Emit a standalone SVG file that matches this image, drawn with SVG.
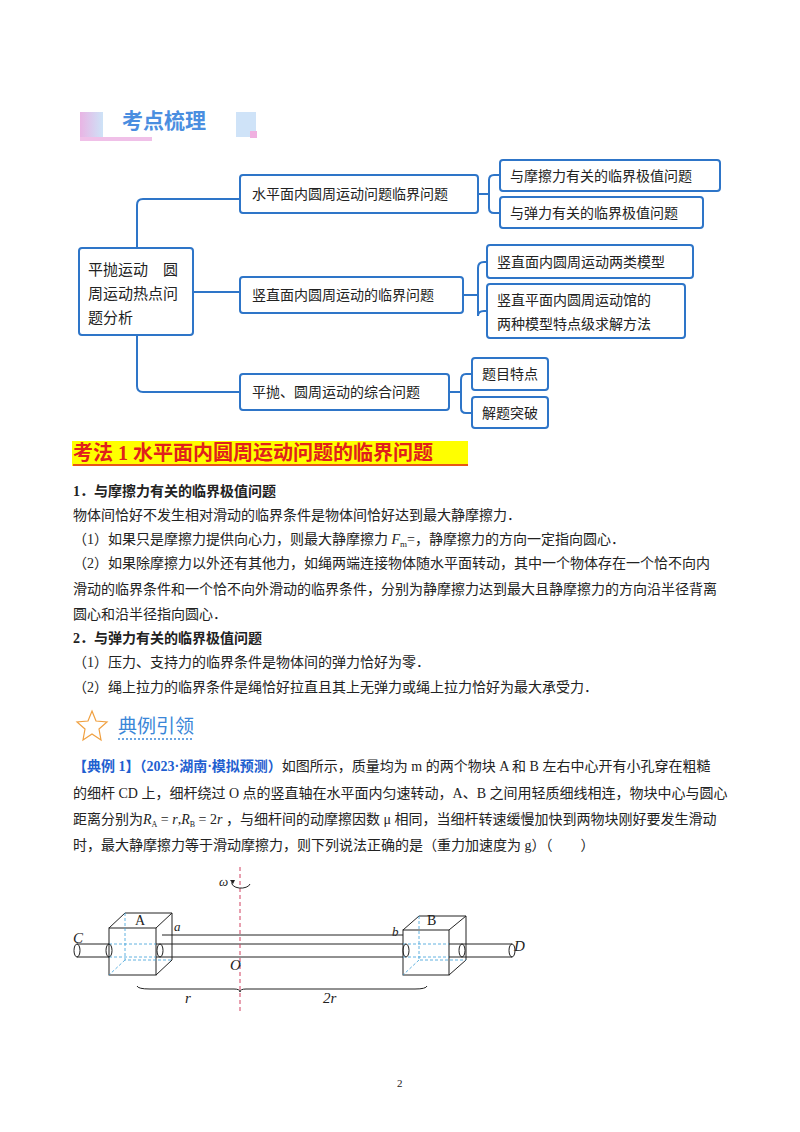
<svg xmlns="http://www.w3.org/2000/svg" width="800" height="1132" viewBox="0 0 800 1132">
<style>
.t{font-family:"Liberation Serif","Noto Sans CJK SC",serif;font-size:14px;fill:#222}
.b{font-weight:bold}
.n rect{fill:#fff;stroke:#2e75c8;stroke-width:2}
.c{fill:none;stroke:#2e75c8;stroke-width:2}
.k{fill:none;stroke:#222;stroke-width:1}
.d{fill:none;stroke:#3aa0d8;stroke-width:0.8;stroke-dasharray:3,2}
</style>
<rect width="800" height="1132" fill="#fff"/>
<defs><linearGradient id="g1" x1="0" x2="1"><stop offset="0" stop-color="#e9b4e4"/><stop offset="1" stop-color="#cde3f7"/></linearGradient></defs>
<g id="header">
<rect x="80" y="112" width="23" height="28" fill="url(#g1)"/>
<rect x="80" y="137" width="72" height="4" fill="#f0c0e8"/>
<rect x="236" y="112" width="20" height="25" fill="#cfe3f8"/>
<rect x="250" y="131" width="7" height="7" fill="#f0b0e0"/>
<text x="122" y="128" class="t b" style="font-size:21px;fill:#4a8ee0;font-family:'Noto Sans CJK SC',sans-serif">考点梳理</text>
</g>
<g id="connectors">
<path class="c" d="M193 292 H240 M137 248 V205 Q137 199 143 199 H240 M137 335 V386 Q137 392 143 392 H240"/>
<path class="c" d="M478 194 H489 M489 180 V208 M489 180 Q489 175 494 175 H500 M489 208 Q489 213 494 213 H500"/>
<path class="c" d="M463 295 H478 M478 268 V316 M478 268 Q478 262 484 262 H487 M478 316 Q478 311 484 311 H487"/>
<path class="c" d="M449 392 H461 M461 380 V408 M461 380 Q461 374 466 374 H472 M461 408 Q461 413 466 413 H472"/>
</g>
<g id="root" class="n"><rect x="79" y="248" width="114" height="87" rx="3"/>
<text class="t" x="88" y="275" style="font-size:15px">平抛运动　圆</text><text class="t" x="88" y="299" style="font-size:15px">周运动热点问</text><text class="t" x="88" y="323" style="font-size:15px">题分析</text></g>
<g id="n1" class="n"><rect x="240" y="175" width="238" height="38" rx="3"/><text class="t" x="252" y="199">水平面内圆周运动问题临界问题</text></g>
<g id="n1a" class="n"><rect x="500" y="160" width="220" height="31" rx="3"/><text class="t" x="510" y="181">与摩擦力有关的临界极值问题</text></g>
<g id="n1b" class="n"><rect x="500" y="197" width="203" height="31" rx="3"/><text class="t" x="510" y="218">与弹力有关的临界极值问题</text></g>
<g id="n2" class="n"><rect x="240" y="277" width="223" height="36" rx="3"/><text class="t" x="252" y="300">竖直面内圆周运动的临界问题</text></g>
<g id="n2a" class="n"><rect x="487" y="245" width="206" height="33" rx="3"/><text class="t" x="497" y="267">竖直面内圆周运动两类模型</text></g>
<g id="n2b" class="n"><rect x="487" y="284" width="198" height="54" rx="3"/><text class="t" x="497" y="305">竖直平面内圆周运动馆的</text><text class="t" x="497" y="329">两种模型特点级求解方法</text></g>
<g id="n3" class="n"><rect x="240" y="374" width="209" height="36" rx="3"/><text class="t" x="252" y="397">平抛、圆周运动的综合问题</text></g>
<g id="n3a" class="n"><rect x="472" y="358" width="76" height="32" rx="3"/><text class="t" x="482" y="379">题目特点</text></g>
<g id="n3b" class="n"><rect x="472" y="397" width="76" height="31" rx="3"/><text class="t" x="482" y="418">解题突破</text></g>
<g id="body">
<rect x="72" y="441" width="396" height="25" fill="#ffff00"/>
<text x="73" y="460" class="t b" style="font-size:20px;fill:#e0201c">考法 1  水平面内圆周运动问题的临界问题</text>
<line x1="73" y1="465" x2="468" y2="465" stroke="#e0201c" stroke-width="1.5"/>
<text class="t b" x="73" y="496">1．与摩擦力有关的临界极值问题</text>
<text class="t" x="73" y="520">物体间恰好不发生相对滑动的临界条件是物体间恰好达到最大静摩擦力．</text>
<text class="t" x="73" y="544">（1）如果只是摩擦力提供向心力，则最大静摩擦力 <tspan font-style="italic">F</tspan><tspan font-size="9" dy="3">m</tspan><tspan dy="-3">=，静摩擦力的方向一定指向圆心．</tspan></text>
<text class="t" x="73" y="568">（2）如果除摩擦力以外还有其他力，如绳两端连接物体随水平面转动，其中一个物体存在一个恰不向内</text>
<text class="t" x="73" y="594">滑动的临界条件和一个恰不向外滑动的临界条件，分别为静摩擦力达到最大且静摩擦力的方向沿半径背离</text>
<text class="t" x="73" y="619">圆心和沿半径指向圆心．</text>
<text class="t b" x="73" y="643">2．与弹力有关的临界极值问题</text>
<text class="t" x="73" y="667">（1）压力、支持力的临界条件是物体间的弹力恰好为零．</text>
<text class="t" x="73" y="692">（2）绳上拉力的临界条件是绳恰好拉直且其上无弹力或绳上拉力恰好为最大承受力．</text>
<polygon points="92,711 96,721 107,722 99,729 101,740 92,734 83,740 85,729 77,722 88,721" fill="none" stroke="#f0a040" stroke-width="1.2"/>
<text x="118" y="733" style="font-family:'Noto Sans CJK SC',sans-serif;font-size:19px;fill:#3a86d8">典例引领</text>
<line x1="118" y1="739" x2="192" y2="739" stroke="#3a86d8" stroke-width="1.5" stroke-dasharray="2,2"/>
<text class="t" x="73" y="771"><tspan class="b" fill="#1f5fd0">【典例 1】（2023·湖南·模拟预测）</tspan>如图所示，质量均为 m 的两个物块 A 和 B 左右中心开有小孔穿在粗糙</text>
<text class="t" x="73" y="798">的细杆 CD 上，细杆绕过 O 点的竖直轴在水平面内匀速转动，A、B 之间用轻质细线相连，物块中心与圆心</text>
<text class="t" x="73" y="824">距离分别为<tspan font-style="italic">R</tspan><tspan font-size="8" dy="3">A</tspan><tspan dy="-3"> = </tspan><tspan font-style="italic">r</tspan>,<tspan font-style="italic">R</tspan><tspan font-size="8" dy="3">B</tspan><tspan dy="-3"> = 2</tspan><tspan font-style="italic">r</tspan> ，与细杆间的动摩擦因数 μ 相同，当细杆转速缓慢加快到两物块刚好要发生滑动</text>
<text class="t" x="73" y="850">时，最大静摩擦力等于滑动摩擦力，则下列说法正确的是（重力加速度为 g）（　　）</text>
</g>
<g id="figure">
<path class="k" d="M77 944 H512 M77 957 H512"/>
<ellipse cx="77" cy="950.5" rx="3" ry="6.5" class="k"/><ellipse cx="512" cy="950.5" rx="3" ry="6.5" class="k"/>
<line x1="162" y1="935" x2="410" y2="935" stroke="#222"/>
<rect x="109" y="928" width="47" height="47" fill="#fff" stroke="#222"/>
<path class="k" d="M109 928 L125 913 H172 V960 L156 975 M156 928 L172 913"/>
<path class="d" d="M125 913 V960 H172 M125 960 L109 975 M109 944 H156 M109 957 H156"/>
<ellipse cx="109" cy="950.5" rx="3" ry="6.5" class="k"/><ellipse cx="160" cy="950.5" rx="3" ry="6.5" class="k"/>
<rect x="403" y="930" width="46" height="45" fill="#fff" stroke="#222"/>
<path class="k" d="M403 930 L419 916 H466 V960 L449 975 M449 930 L466 916"/>
<path class="d" d="M419 916 V960 H466 M419 960 L403 975 M403 944 H449 M403 957 H449"/>
<ellipse cx="406" cy="950.5" rx="3" ry="6.5" class="k"/><ellipse cx="462" cy="950.5" rx="3" ry="6.5" class="k"/>
<line x1="240" y1="867" x2="240" y2="1012" stroke="#d04060" stroke-width="1" stroke-dasharray="4,3"/>
<path class="k" d="M232 882 A9 5 0 1 0 250 884"/>
<path d="M230 880 l5 0 l-2 4z" fill="#222"/>
<path class="k" d="M137 986 Q138 989 150 989 H234 Q240 989 240 992 Q240 989 246 989 H415 Q426 989 427 986"/>
<g class="t" style="font-size:15px;font-style:italic">
<text x="73" y="943">C</text><text x="514" y="951">D</text><text x="230" y="970">O</text><text x="174" y="931" font-size="13">a</text><text x="392" y="936" font-size="13">b</text>
<text x="185" y="1003">r</text><text x="323" y="1003">2r</text><text x="219" y="886" font-size="13">ω</text>
</g>
<text x="135" y="925" class="t">A</text><text x="427" y="925" class="t">B</text>
</g>
<text x="397" y="1087" class="t" style="font-size:11px">2</text>
</svg>
